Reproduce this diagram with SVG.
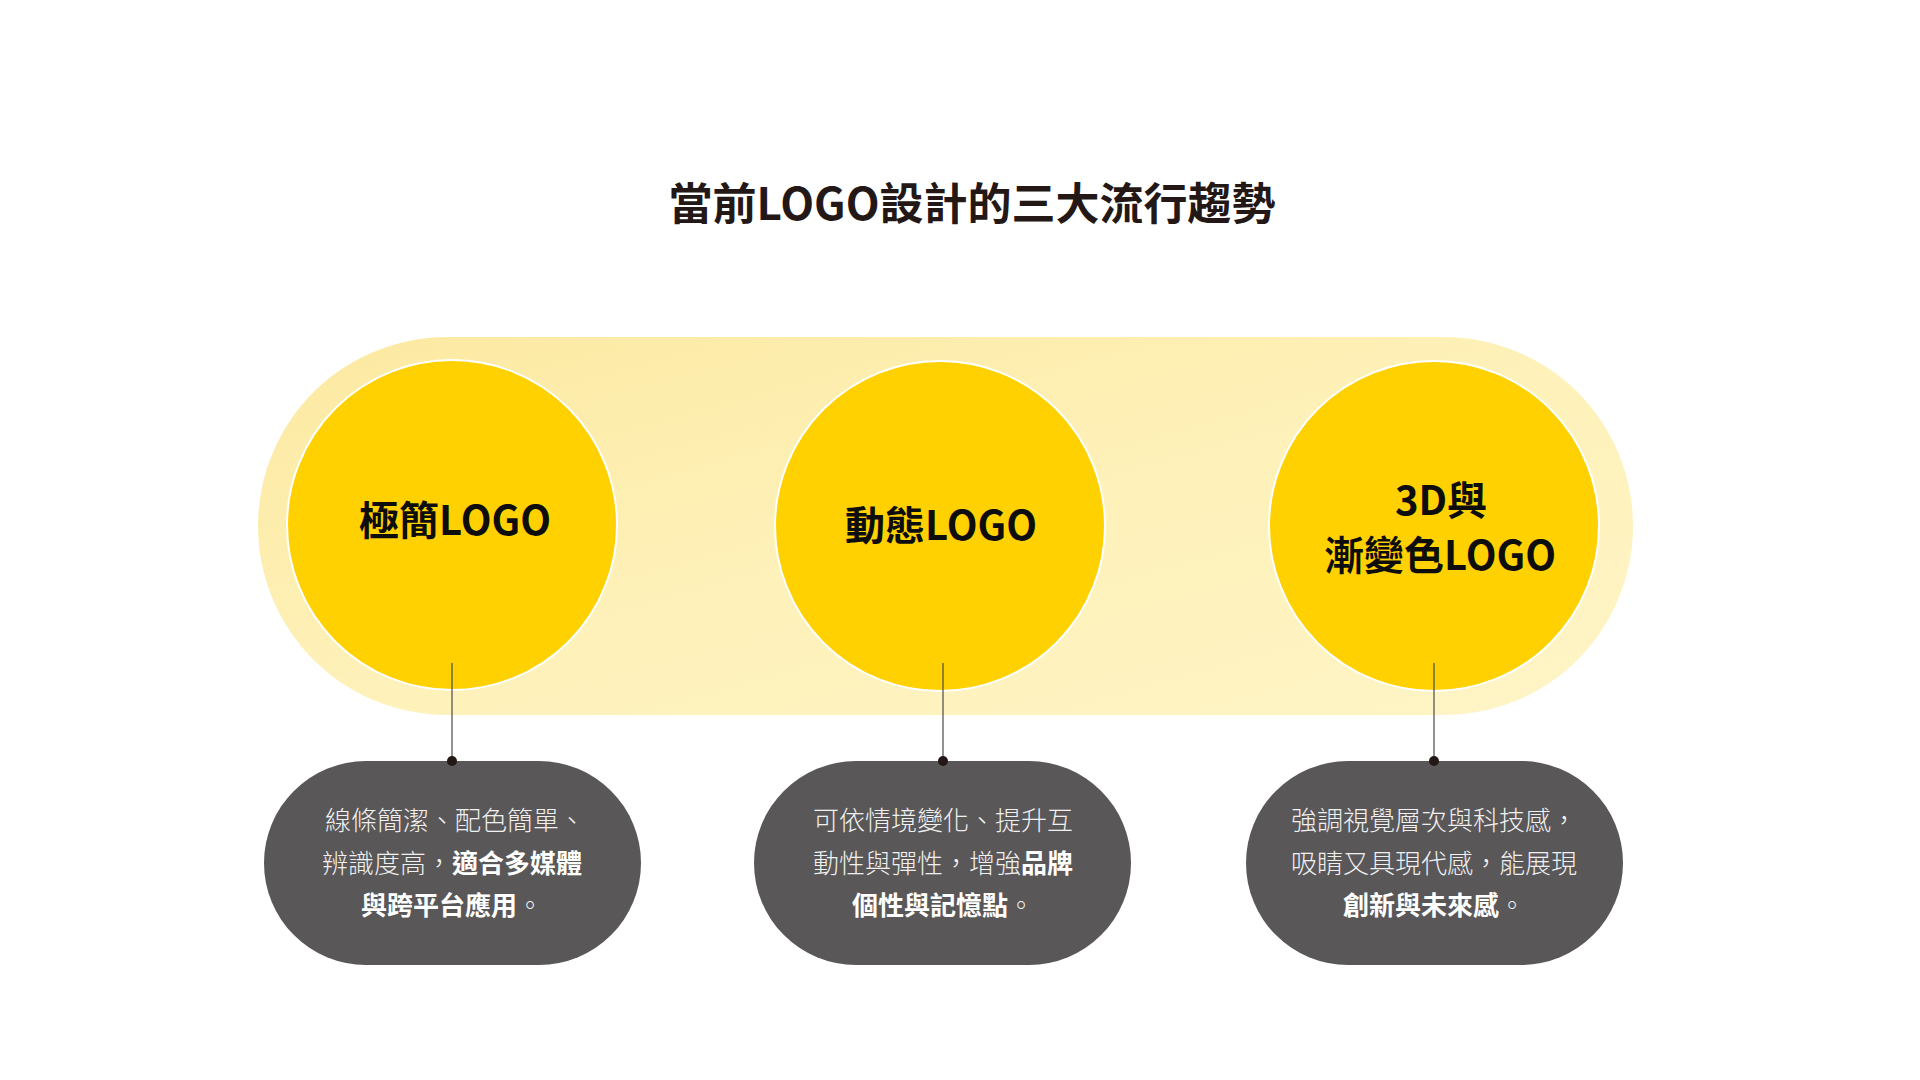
<svg xmlns="http://www.w3.org/2000/svg" width="1920" height="1080" viewBox="0 0 1920 1080">
  <defs>
    <linearGradient id="pillGrad" x1="0" y1="0" x2="1" y2="1">
      <stop offset="0" stop-color="#FCE9A1"/>
      <stop offset="0.5" stop-color="#FEF1B9"/>
      <stop offset="1" stop-color="#FEF4C6"/>
    </linearGradient>
  </defs>
  <style>
    .title { font-family: "Noto Sans CJK TC", "Noto Sans CJK SC", sans-serif; font-weight: 700; font-size: 44px; fill: #231815; text-anchor: middle; }
    .circle { fill: #FFD100; stroke: #FFFFFF; stroke-width: 2; }
    .clabel { font-family: "Noto Sans CJK TC", "Noto Sans CJK SC", sans-serif; font-weight: 700; font-size: 40px; fill: #0d0d0d; text-anchor: middle; }
    .card { fill: #595758; }
    .ctext { font-family: "Noto Sans CJK TC", "Noto Sans CJK SC", sans-serif; font-weight: 300; font-size: 26px; fill: #F0F0F0; text-anchor: middle; }
    .b { font-weight: 700; fill: #FFFFFF; }
    .conn { stroke: #4a4a4a; stroke-width: 1.2; fill: none; }
    .dot { fill: #231815; }
  </style>
  <rect width="1920" height="1080" fill="#FFFFFF"/>

  <g id="title">
    <text class="title" x="972" y="220">當前LOGO設計的三大流行趨勢</text>
  </g>

  <g id="band">
    <rect x="258" y="337" width="1375" height="378" rx="189" ry="189" fill="url(#pillGrad)"/>
  </g>

  <g id="node-minimal">
    <circle class="circle" cx="452" cy="525" r="165"/>
    <text class="clabel" x="455" y="535">極簡LOGO</text>
  </g>
  <g id="node-dynamic">
    <circle class="circle" cx="940" cy="526" r="165"/>
    <text class="clabel" x="941" y="540">動態LOGO</text>
  </g>
  <g id="node-3d">
    <circle class="circle" cx="1434" cy="526" r="165"/>
    <text class="clabel" x="1441" y="515">3D與</text>
    <text class="clabel" x="1440" y="570">漸變色LOGO</text>
  </g>

  <g id="card-minimal">
    <rect class="card" x="264" y="761" width="377" height="204" rx="102" ry="102"/>
    <text class="ctext" x="455" y="830">線條簡潔、配色簡單、</text>
    <text class="ctext" x="452" y="873">辨識度高，<tspan class="b">適合多媒體</tspan></text>
    <text class="ctext" x="452" y="915"><tspan class="b">與跨平台應用</tspan>。</text>
  </g>
  <g id="card-dynamic">
    <rect class="card" x="754" y="761" width="377" height="204" rx="102" ry="102"/>
    <text class="ctext" x="943" y="830">可依情境變化、提升互</text>
    <text class="ctext" x="943" y="873">動性與彈性，增強<tspan class="b">品牌</tspan></text>
    <text class="ctext" x="943" y="915"><tspan class="b">個性與記憶點</tspan>。</text>
  </g>
  <g id="card-3d">
    <rect class="card" x="1246" y="761" width="377" height="204" rx="102" ry="102"/>
    <text class="ctext" x="1434" y="830">強調視覺層次與科技感，</text>
    <text class="ctext" x="1434" y="873">吸睛又具現代感，能展現</text>
    <text class="ctext" x="1434" y="915"><tspan class="b">創新與未來感</tspan>。</text>
  </g>

  <g id="connectors">
    <line class="conn" x1="452" y1="663" x2="452" y2="761"/>
    <circle class="dot" cx="452" cy="761" r="5"/>
    <line class="conn" x1="943" y1="663" x2="943" y2="761"/>
    <circle class="dot" cx="943" cy="761" r="5"/>
    <line class="conn" x1="1434" y1="663" x2="1434" y2="761"/>
    <circle class="dot" cx="1434" cy="761" r="5"/>
  </g>
</svg>
